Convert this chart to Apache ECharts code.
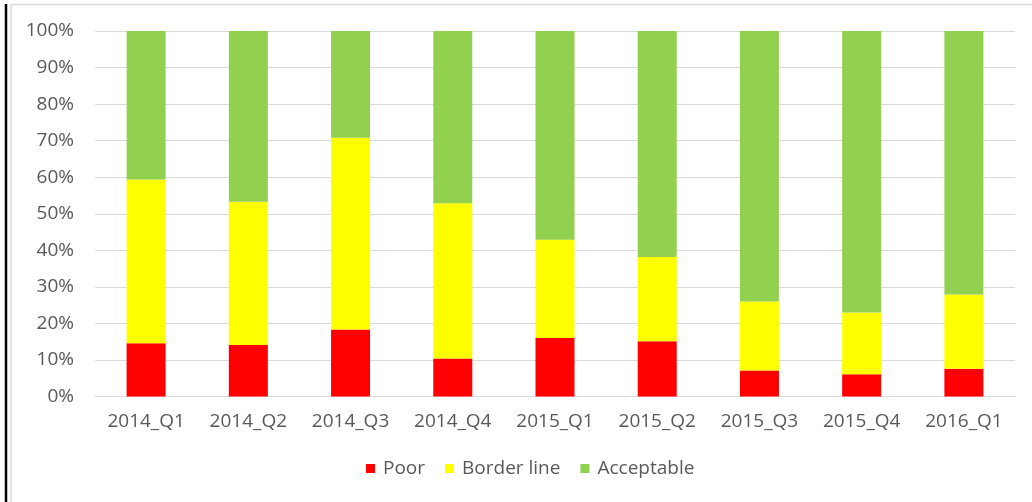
<!DOCTYPE html>
<html>
<head>
<meta charset="utf-8">
<script src="https://cdn.jsdelivr.net/npm/echarts@6/dist/echarts.min.js"></script>
<style>
html,body{margin:0;padding:0;background:#fff;}
#chart{width:1032px;height:502px;}
</style>
</head>
<body>
<div id="chart"></div>
<script>
var categories = ['2014_Q1','2014_Q2','2014_Q3','2014_Q4','2015_Q1','2015_Q2','2015_Q3','2015_Q4','2016_Q1'];
var poor       = [14.6, 14.1, 18.3, 10.4, 16.0, 15.1, 7.1, 6.1, 7.6];
var borderLine = [44.8, 39.2, 52.5, 42.5, 26.9, 23.1, 18.9, 16.9, 20.3];
var acceptable = [40.6, 46.7, 29.2, 47.1, 57.1, 61.8, 74.0, 77.0, 72.1];
var seriesNames = ['Poor', 'Border line', 'Acceptable'];

var textColor = '#595959';
var font = 'Open Sans';
var fs = 19;
var chart = echarts.init(document.getElementById('chart'), null, {renderer:'canvas'});
function mk(name, data, color){
  return {name:name, type:'bar', stack:'total', data:data, barWidth:39,
    itemStyle:{color:color}, emphasis:{disabled:true}};
}
chart.setOption({
  animation:false,
  backgroundColor:'#fff',
  textStyle:{fontFamily:font},
  grid:{left:95, right:17, top:31, bottom:105.5, containLabel:false},
  legend:{
    data:seriesNames, bottom:24, left:366, padding:0,
    itemWidth:9, itemHeight:9, itemGap:20,
    icon:'rect',
    textStyle:{color:textColor, fontSize:fs, fontFamily:font, padding:[0,0,0,3]}
  },
  xAxis:{type:'category', data:categories,
    axisLine:{lineStyle:{color:'#d9d9d9', width:1}},
    axisTick:{show:false},
    axisLabel:{color:textColor, fontSize:fs, fontFamily:font, margin:16}
  },
  yAxis:{type:'value', min:0, max:100, interval:10,
    axisLine:{show:false}, axisTick:{show:false},
    splitLine:{lineStyle:{color:'#d9d9d9', width:1}},
    axisLabel:{color:textColor, fontSize:fs, fontFamily:font, margin:21,
      formatter:function(v){return v+'%';}}
  },
  graphic:[
    {type:'line', shape:{x1:6, y1:4, x2:6, y2:502}, style:{stroke:'#000', lineWidth:2.5}},
    {type:'line', shape:{x1:11, y1:4.5, x2:1032, y2:4.5}, style:{stroke:'#d9d9d9', lineWidth:1.5}},
    {type:'line', shape:{x1:11, y1:4, x2:11, y2:502}, style:{stroke:'#d9d9d9', lineWidth:1.5}}
  ],
  series:[
    mk(seriesNames[0], poor, '#ff0000'),
    mk(seriesNames[1], borderLine, '#ffff00'),
    mk(seriesNames[2], acceptable, '#92d050')
  ]
});
</script>
</body>
</html>
